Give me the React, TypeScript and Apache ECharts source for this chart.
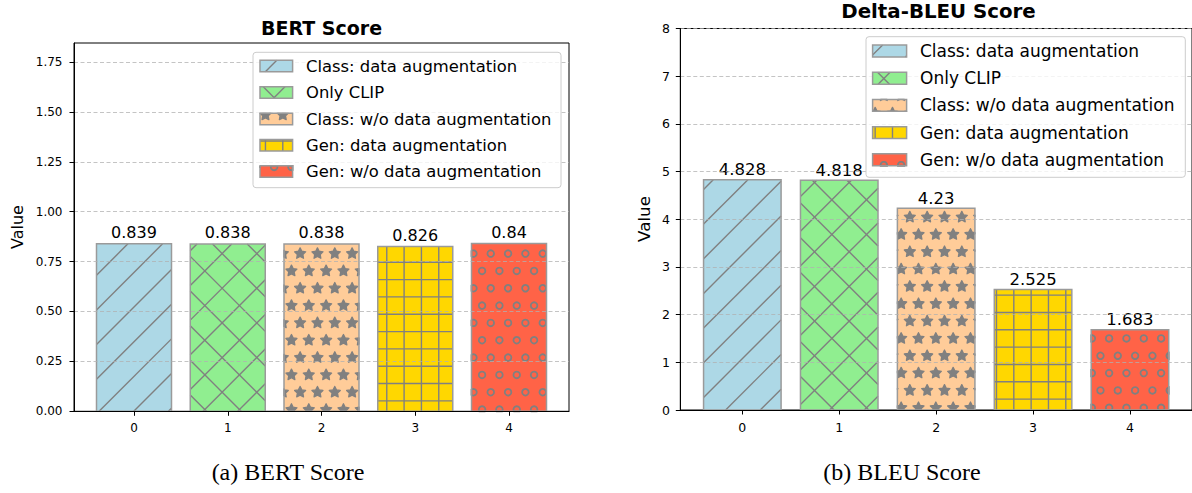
import React, { useEffect, useRef } from 'react';
import * as echarts from 'echarts';

// ---------------- data ----------------
const categories = [0, 1, 2, 3, 4];
const bertScores = [0.839, 0.838, 0.838, 0.826, 0.84];
const bleuScores = [4.828, 4.818, 4.23, 2.525, 1.683];
const legendLabels = [
  'Class: data augmentation',
  'Only CLIP',
  'Class: w/o data augmentation',
  'Gen: data augmentation',
  'Gen: w/o data augmentation',
];
const barColors = ['#ADD8E6', '#90EE90', '#FFCC99', '#FFD700', '#FF6347'];
const hatchKinds = ['/', 'x', '*', '+', 'o'];
const bertYTicks = [0, 0.25, 0.5, 0.75, 1.0, 1.25, 1.5, 1.75];
const bleuYTicks = [0, 1, 2, 3, 4, 5, 6, 7, 8];
const panelTitles = ['BERT Score', 'Delta-BLEU Score'];
const captions = ['(a) BERT Score', '(b) BLEU Score'];
const yAxisName = 'Value';

// ---------------- styles / layout ----------------
const FONT = 'DejaVu Sans';
const SERIF = 'Liberation Serif';
const HATCH = '#808080';
const EDGE = '#9a9a9a';
const S = 17.33;
const P = 2 * S;
const LW = 1.4;

const panels = [
  {
    values: bertScores,
    yTicks: bertYTicks,
    yMax: 1.845,
    interval: 0.25,
    decimals: 2,
    grid: { left: 74, top: 43, width: 495, height: 368.3 },
    origin: { ox: 31.5, oy: 28.3 },
    fs: { tick: 12, value: 16, legend: 16.4, title: 19, ylab: 16 },
    yLabelMargin: 11.5,
    xLabelMargin: 10.5,
    title: { x: 321.5, y: 28.4 },
    ylab: { x: 17, y: 227 },
    caption: { x: 288, y: 472 },
    legend: { x: 253, y: 52.3, w: 308, h: 135.4, hx: 260, hw: 32.6, hh: 11.4, tx: 306, rows: [66, 92.5, 119, 145.3, 171.5] },
  },
  {
    values: bleuScores,
    yTicks: bleuYTicks,
    yMax: 8,
    interval: 1,
    decimals: 0,
    grid: { left: 680.3, top: 28.5, width: 516.6, height: 381.5 },
    origin: { ox: 0, oy: 26.5 },
    fs: { tick: 12.5, value: 16.5, legend: 17, title: 19.8, ylab: 16.7 },
    yLabelMargin: 10.3,
    xLabelMargin: 11,
    title: { x: 938.5, y: 11.8 },
    ylab: { x: 644, y: 219 },
    caption: { x: 902, y: 472 },
    legend: { x: 866, y: 36.7, w: 319.3, h: 140.6, hx: 872.6, hw: 34, hh: 11.9, tx: 920, rows: [51, 78.2, 105.4, 132.6, 159.8] },
  },
];

// ---------------- hatch helpers ----------------
function mod(a: number, m: number) {
  return ((a % m) + m) % m;
}

function clipPolygon(pts: number[][], x0: number, y0: number, x1: number, y1: number) {
  const bounds = [
    { inside: (p: number[]) => p[0] >= x0, inter: (a: number[], b: number[]) => { const t = (x0 - a[0]) / (b[0] - a[0]); return [x0, a[1] + t * (b[1] - a[1])]; } },
    { inside: (p: number[]) => p[0] <= x1, inter: (a: number[], b: number[]) => { const t = (x1 - a[0]) / (b[0] - a[0]); return [x1, a[1] + t * (b[1] - a[1])]; } },
    { inside: (p: number[]) => p[1] >= y0, inter: (a: number[], b: number[]) => { const t = (y0 - a[1]) / (b[1] - a[1]); return [a[0] + t * (b[0] - a[0]), y0]; } },
    { inside: (p: number[]) => p[1] <= y1, inter: (a: number[], b: number[]) => { const t = (y1 - a[1]) / (b[1] - a[1]); return [a[0] + t * (b[0] - a[0]), y1]; } },
  ];
  let out = pts;
  for (const bd of bounds) {
    const input = out;
    out = [];
    if (!input.length) break;
    for (let i = 0; i < input.length; i++) {
      const cur = input[i];
      const prev = input[(i + input.length - 1) % input.length];
      const cIn = bd.inside(cur);
      const pIn = bd.inside(prev);
      if (cIn) {
        if (!pIn) out.push(bd.inter(prev, cur));
        out.push(cur);
      } else if (pIn) {
        out.push(bd.inter(prev, cur));
      }
    }
  }
  return out;
}

function starPts(cx: number, cy: number, R: number) {
  const pts: number[][] = [];
  for (let k = 0; k < 10; k++) {
    const th = Math.PI / 2 + (k * Math.PI) / 5;
    const r = k % 2 === 0 ? R : R * 0.5;
    pts.push([cx + r * Math.cos(th), cy - r * Math.sin(th)]);
  }
  return pts;
}

function circlePts(cx: number, cy: number, R: number) {
  const pts: number[][] = [];
  for (let k = 0; k < 28; k++) {
    const th = (k * 2 * Math.PI) / 28;
    pts.push([cx + R * Math.cos(th), cy + R * Math.sin(th)]);
  }
  return pts;
}

function makeHatch(kind: string, x0: number, y0: number, x1: number, y1: number, org: { ox: number; oy: number }, extra: any) {
  const els: any[] = [];
  const line = (a: number, b: number, c: number, d: number) =>
    els.push({ type: 'line', shape: { x1: a, y1: b, x2: c, y2: d }, style: { stroke: HATCH, lineWidth: LW }, silent: true, ...extra });
  if (kind === '/' || kind === 'x') {
    const ph = org.ox + org.oy;
    for (let c = ph + Math.ceil((x0 + y0 - ph) / P) * P; c <= x1 + y1; c += P) {
      const lo = Math.max(x0, c - y1);
      const hi = Math.min(x1, c - y0);
      if (hi > lo) line(lo, c - lo, hi, c - hi);
    }
  }
  if (kind === 'x') {
    const ph = org.ox - org.oy;
    for (let c = ph + Math.ceil((x0 - y1 - ph) / P) * P; c <= x1 - y0; c += P) {
      const lo = Math.max(x0, c + y0);
      const hi = Math.min(x1, c + y1);
      if (hi > lo) line(lo, lo - c, hi, hi - c);
    }
  }
  if (kind === '+') {
    const phx = org.ox + S / 2;
    for (let x = phx + Math.ceil((x0 - phx) / S) * S; x <= x1; x += S) line(x, y0, x, y1);
    const phy = org.oy + S / 2;
    for (let y = phy + Math.ceil((y0 - phy) / S) * S; y <= y1; y += S) line(x0, y, x1, y);
  }
  if (kind === '*' || kind === 'o') {
    const R = kind === '*' ? S / 3 : S * 0.19;
    const iMin = Math.ceil((org.oy - (y1 + R)) / S);
    const iMax = Math.floor((org.oy - (y0 - R)) / S);
    for (let i = iMin; i <= iMax; i++) {
      const cy = org.oy - i * S;
      const xoff = org.ox + (mod(i, 2) === 1 ? S / 2 : 0);
      for (let cx = xoff + Math.ceil((x0 - R - xoff) / S) * S; cx <= x1 + R; cx += S) {
        if (kind === '*') {
          const pts = clipPolygon(starPts(cx, cy, R), x0, y0, x1, y1);
          if (pts.length >= 3)
            els.push({ type: 'polygon', shape: { points: pts }, style: { fill: HATCH, stroke: HATCH, lineWidth: 1.3, lineJoin: 'round' }, silent: true, ...extra });
        } else {
          const inside = cx - R >= x0 && cx + R <= x1 && cy - R >= y0 && cy + R <= y1;
          if (inside) {
            els.push({ type: 'circle', shape: { cx, cy, r: R }, style: { fill: 'none', stroke: HATCH, lineWidth: 1.8 }, silent: true, ...extra });
          } else {
            const pts = clipPolygon(circlePts(cx, cy, R), x0, y0, x1, y1);
            if (pts.length >= 3)
              els.push({ type: 'polygon', shape: { points: pts }, style: { fill: 'none', stroke: HATCH, lineWidth: 1.8 }, silent: true, ...extra });
          }
        }
      }
    }
  }
  return els;
}

function makeRenderItem(k: number) {
  const p = panels[k];
  return (params: any, api: any) => {
    const i = params.dataIndex;
    const xv = api.value(0);
    const yv = api.value(1);
    const a = api.coord([xv - 0.4, yv]);
    const b = api.coord([xv + 0.4, 0]);
    const x0 = a[0], y0 = a[1], x1 = b[0], y1 = b[1];
    const labelBase = api.coord([xv, yv + 0.01])[1] - 0.23 * p.fs.value;
    const children: any[] = [
      { type: 'rect', shape: { x: x0, y: y0, width: x1 - x0, height: y1 - y0 }, style: { fill: barColors[i] } },
      ...makeHatch(hatchKinds[i], x0, y0, x1, y1, p.origin, {}),
      { type: 'rect', shape: { x: x0, y: y0, width: x1 - x0, height: y1 - y0 }, style: { fill: 'none', stroke: EDGE, lineWidth: 1.5 } },
      {
        type: 'text',
        x: (x0 + x1) / 2,
        y: labelBase - 0.346 * p.fs.value,
        style: { text: String(yv), fontSize: p.fs.value, fontFamily: FONT, fill: '#000', align: 'center', verticalAlign: 'middle' },
      },
    ];
    return { type: 'group', children };
  };
}

function buildGraphic() {
  const els: any[] = [];
  panels.forEach((p, k) => {
    els.push({
      type: 'text', x: p.title.x, y: p.title.y, z: 10,
      style: { text: panelTitles[k], fontSize: p.fs.title, fontWeight: 'bold', fontFamily: FONT, fill: '#000', align: 'center', verticalAlign: 'middle' },
    });
    els.push({
      type: 'text', x: p.ylab.x, y: p.ylab.y, rotation: Math.PI / 2, z: 10,
      style: { text: yAxisName, fontSize: p.fs.ylab, fontFamily: FONT, fill: '#000', align: 'center', verticalAlign: 'middle' },
    });
    els.push({
      type: 'text', x: p.caption.x, y: p.caption.y, z: 10,
      style: { text: captions[k], fontSize: 24, fontFamily: SERIF, fill: '#000', align: 'center', verticalAlign: 'middle' },
    });
    const L = p.legend;
    els.push({
      type: 'rect', z: 10,
      shape: { x: L.x, y: L.y, width: L.w, height: L.h, r: 3 },
      style: { fill: 'rgba(255,255,255,0.8)', stroke: '#cccccc', lineWidth: 1 },
    });
    legendLabels.forEach((lab, i) => {
      const cy = L.rows[i];
      const hx0 = L.hx, hy0 = cy - L.hh / 2, hx1 = L.hx + L.hw, hy1 = cy + L.hh / 2;
      els.push({ type: 'rect', z: 11, shape: { x: hx0, y: hy0, width: L.hw, height: L.hh }, style: { fill: barColors[i] } });
      makeHatch(hatchKinds[i], hx0, hy0, hx1, hy1, p.origin, { z: 11 }).forEach((e) => els.push(e));
      els.push({ type: 'rect', z: 11, shape: { x: hx0, y: hy0, width: L.hw, height: L.hh }, style: { fill: 'none', stroke: EDGE, lineWidth: 1.5 } });
      els.push({
        type: 'text', x: L.tx, y: cy, z: 11,
        style: { text: lab, fontSize: p.fs.legend, fontFamily: FONT, fill: '#000', align: 'left', verticalAlign: 'middle' },
      });
    });
  });
  return els;
}

function buildOption() {
  return {
    animation: false,
    backgroundColor: '#ffffff',
    grid: panels.map((p) => ({ ...p.grid, show: true, borderColor: '#000', borderWidth: 1, backgroundColor: 'transparent', containLabel: false })),
    xAxis: panels.map((p, k) => ({
      type: 'value',
      gridIndex: k,
      min: -0.64,
      max: 4.64,
      z: 3,
      axisLine: { show: true, onZero: false, lineStyle: { color: '#000', width: 1 } },
      axisTick: { show: true, customValues: categories, length: 4.5, lineStyle: { color: '#000', width: 1 } },
      axisLabel: { customValues: categories, color: '#000', fontSize: p.fs.tick, fontFamily: FONT, margin: p.xLabelMargin, formatter: (v: number) => String(v) },
      splitLine: { show: false },
    })),
    yAxis: panels.map((p, k) => ({
      type: 'value',
      gridIndex: k,
      min: 0,
      max: p.yMax,
      interval: p.interval,
      z: 3,
      axisLine: { show: true, onZero: false, lineStyle: { color: '#000', width: 1 } },
      axisTick: { show: true, customValues: p.yTicks, length: 4.5, lineStyle: { color: '#000', width: 1 } },
      axisLabel: { customValues: p.yTicks, color: '#000', fontSize: p.fs.tick, fontFamily: FONT, margin: p.yLabelMargin, formatter: (v: number) => v.toFixed(p.decimals) },
      splitLine: { show: true, lineStyle: { color: '#b0b0b0', opacity: 0.75, type: [4, 2.5], width: 1 } },
    })),
    series: panels.map((p, k) => ({
      type: 'custom',
      xAxisIndex: k,
      yAxisIndex: k,
      z: 2,
      clip: false,
      encode: { x: 0, y: 1 },
      data: categories.map((c, i) => [c, p.values[i]]),
      renderItem: makeRenderItem(k),
    })),
    graphic: buildGraphic(),
  };
}

export default function App() {
  const ref = useRef<HTMLDivElement>(null);
  useEffect(() => {
    if (!ref.current) return;
    const chart = echarts.init(ref.current, null, { renderer: 'svg' });
    chart.setOption(buildOption() as any);
    return () => chart.dispose();
  }, []);
  return (
    <div
      ref={ref}
      style={{ position: 'absolute', left: 0, top: 0, width: 1192, height: 493, background: '#fff', overflow: 'hidden' }}
    />
  );
}
